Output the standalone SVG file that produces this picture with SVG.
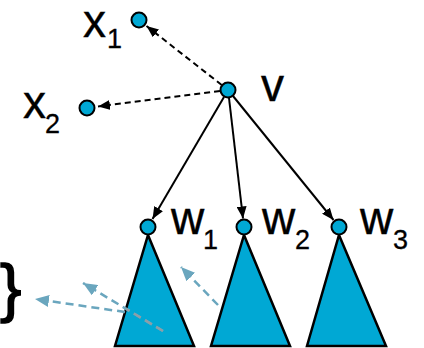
<svg xmlns="http://www.w3.org/2000/svg" width="424" height="348" viewBox="0 0 424 348">
<style>
.lbl{font-family:"Liberation Sans",Arial,sans-serif;font-size:46px;fill:#000;stroke:#000;stroke-width:0.4}
.sub{font-family:"Liberation Sans",Arial,sans-serif;font-size:27px;fill:#000;stroke:#000;stroke-width:0.3}
.node{fill:#00A8D4;stroke:#000;stroke-width:2}
.tri{fill:#00A8D4;stroke:#000;stroke-width:2.5;stroke-linejoin:miter}
.solid{stroke:#000;stroke-width:2;fill:none;marker-end:url(#ah)}
.dash{stroke:#000;stroke-width:2;fill:none;stroke-dasharray:6 4;marker-end:url(#ah)}
.bdash{stroke:#6AA6BE;stroke-width:2.5;fill:none;stroke-dasharray:8 5;marker-end:url(#bh)}
.gdash{stroke:#8C9FA8;stroke-width:2.5;fill:none;stroke-dasharray:8 5}
</style>
<defs>
<marker id="ah" viewBox="0 0 12 10" refX="12" refY="5" markerWidth="12" markerHeight="10" markerUnits="userSpaceOnUse" orient="auto"><path d="M0,0 L12,5 L0,10 z" fill="#000"/></marker>
<marker id="bh" viewBox="0 0 14 12" refX="14" refY="6" markerWidth="14" markerHeight="12" markerUnits="userSpaceOnUse" orient="auto"><path d="M0,0 L14,6 L0,12 z" fill="#6AA6BE"/></marker>
<clipPath id="clipT1"><polygon points="148,235 194,346 115,346"/></clipPath>
</defs>

<g id="subtree-w1"><polygon class="tri" points="148,235 194,346 115,346"/></g>
<g id="subtree-w2"><polygon class="tri" points="244,235 290,346 211,346"/></g>
<g id="subtree-w3"><polygon class="tri" points="339,235 386,346 307,346"/></g>

<g id="connectors">
<line class="dash" x1="221.7" y1="85" x2="146.5" y2="26"/>
<line class="dash" x1="220" y1="91" x2="98" y2="106.5"/>
<line class="solid" x1="224" y1="97" x2="152.5" y2="219"/>
<line class="solid" x1="229" y1="98" x2="243" y2="218.5"/>
<line class="solid" x1="233" y1="96" x2="333.5" y2="220"/>
<line class="bdash" x1="163" y1="331" x2="83" y2="283"/>
<line class="gdash" clip-path="url(#clipT1)" x1="163" y1="331" x2="83" y2="283"/>
<line class="bdash" x1="125" y1="312" x2="35" y2="299"/>
<line class="bdash" x1="218" y1="305" x2="181" y2="267"/>
</g>

<g id="node-x1"><circle class="node" cx="139" cy="20" r="7.5"/><text class="lbl" x="83" y="37">x</text><text class="sub" x="107" y="48">1</text></g>
<g id="node-x2"><circle class="node" cx="87" cy="108" r="7.5"/><text class="lbl" x="23" y="118">x</text><text class="sub" x="45" y="133">2</text></g>
<g id="node-v"><circle class="node" cx="228" cy="90" r="7.5"/><text class="lbl" x="261" y="101">v</text></g>
<g id="node-w1"><circle class="node" cx="148" cy="227" r="7.5"/><text class="lbl" x="171" y="234">w</text><text class="sub" x="203" y="249">1</text></g>
<g id="node-w2"><circle class="node" cx="244" cy="227" r="7.5"/><text class="lbl" x="262" y="234">w</text><text class="sub" x="295" y="249">2</text></g>
<g id="node-w3"><circle class="node" cx="339" cy="227" r="7.5"/><text class="lbl" x="360" y="234">w</text><text class="sub" x="393" y="249">3</text></g>
<g id="brace"><text class="lbl" x="0" y="310" style="font-size:64px;stroke-width:1.5">}</text></g>
</svg>
